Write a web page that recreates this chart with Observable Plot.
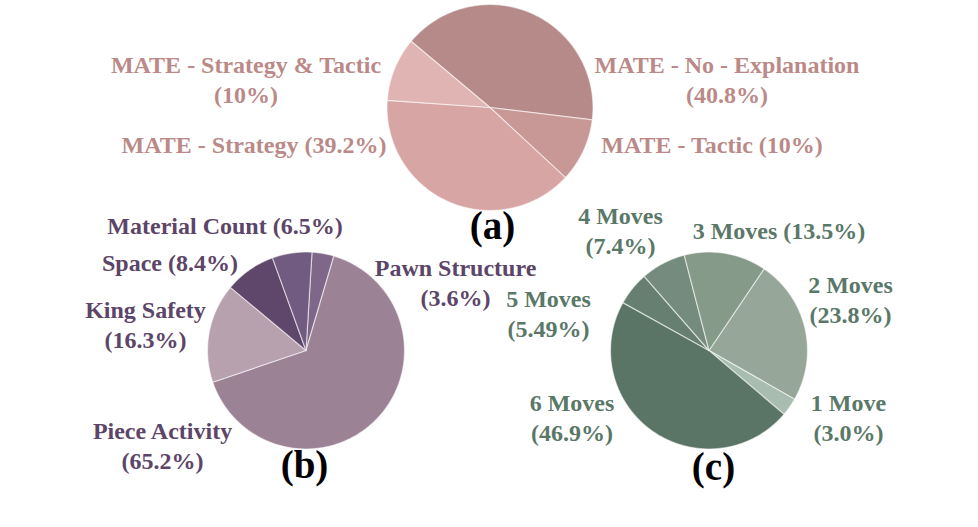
<!DOCTYPE html>
<html>
<head>
<meta charset="utf-8">
<script src="https://cdn.jsdelivr.net/npm/d3@7"></script>
<script src="https://cdn.jsdelivr.net/npm/@observablehq/plot@0.6"></script>
<style>
  html, body { margin: 0; padding: 0; background: #fff; }
  #chart { width: 978px; height: 527px; }
</style>
</head>
<body>
<div id="chart"></div>
<script>
// ---------- data ----------
// (a) MATE explanation types (clockwise order)
const aNames  = ["MATE - No - Explanation", "MATE - Tactic", "MATE - Strategy", "MATE - Strategy & Tactic"];
const aValues = [40.8, 10, 39.2, 10];
const aPct    = ["40.8%", "10%", "39.2%", "10%"];

// (b) concepts (clockwise order)
const bNames  = ["Pawn Structure", "Piece Activity", "King Safety", "Space", "Material Count"];
const bValues = [3.6, 65.2, 16.3, 8.4, 6.5];
const bPct    = ["3.6%", "65.2%", "16.3%", "8.4%", "6.5%"];

// (c) moves (clockwise order)
const cNames  = ["2 Moves", "1 Move", "6 Moves", "5 Moves", "4 Moves", "3 Moves"];
const cValues = [23.8, 3.0, 46.9, 5.49, 7.4, 13.5];
const cPct    = ["23.8%", "3.0%", "46.9%", "5.49%", "7.4%", "13.5%"];

const panelLabels = ["(a)", "(b)", "(c)"];

// ---------- styles / layout ----------
const aColors = ["#b58a89", "#c89896", "#d6a5a4", "#e0b4b2"];
const bColors = ["#7e6789", "#9b8295", "#b8a1af", "#5e476a", "#725b80"];
const cColors = ["#96a799", "#a8bdb0", "#5a7566", "#667f70", "#758b7d", "#869a8a"];
const textColors = ["#bb8a88", "#5c4568", "#5a7868"];

const deg = Math.PI / 180;
const dyText = -2;
const pies = [
  {names: aNames, values: aValues, pct: aPct, colors: aColors, cx: 489.5, cy: 107, r: 103, start: -50 * deg,
   pos: [[726.5, 80, true], [711.5, 145, false], [253.5, 145, false], [245.5, 80, true]],
   panel: [492, 226]},
  {names: bNames, values: bValues, pct: bPct, colors: bColors, cx: 305.5, cy: 350, r: 98.5, start: 3.5 * deg,
   pos: [[455, 283, true], [162, 446, true], [145, 325, true], [169.5, 263, false], [224.5, 226, false]],
   panel: [304, 465]},
  {names: cNames, values: cValues, pct: cPct, colors: cColors, cx: 708.5, cy: 350, r: 98.5, start: 34 * deg,
   pos: [[850, 300, true], [848, 417.5, true], [571.5, 417.5, true], [548, 314, true], [620, 231, true], [778.5, 231, false]],
   panel: [713, 467]}
];

// ---------- build slice outlines & labels ----------
const slicePts = [];
const labels = [];
const panels = [];
pies.forEach((p, pi) => {
  const arcs = d3.pie().sort(null).startAngle(p.start).endAngle(p.start + 2 * Math.PI)(p.values);
  arcs.forEach((a, i) => {
    const key = pi + "-" + i;
    const col = p.colors[i];
    slicePts.push({k: key, x: p.cx, y: p.cy, c: col});
    const n = Math.max(2, Math.ceil((a.endAngle - a.startAngle) / 0.01));
    for (let j = 0; j <= n; j++) {
      const ang = a.startAngle + (a.endAngle - a.startAngle) * j / n;
      slicePts.push({k: key, x: p.cx + p.r * Math.sin(ang), y: p.cy - p.r * Math.cos(ang), c: col});
    }
    slicePts.push({k: key, x: p.cx, y: p.cy, c: col});
    const [lx, ly, wrap] = p.pos[i];
    labels.push({x: lx, y: ly + dyText, text: p.names[i] + (wrap ? "\n" : " ") + "(" + p.pct[i] + ")", c: textColors[pi]});
  });
  panels.push({x: p.panel[0], y: p.panel[1], text: panelLabels[pi]});
});

const chart = Plot.plot({
  width: 978,
  height: 527,
  margin: 0,
  x: {domain: [0, 978], range: [0, 978], axis: null},
  y: {domain: [0, 527], range: [0, 527], axis: null},
  color: {type: "identity"},
  style: {background: "#ffffff"},
  marks: [
    Plot.line(slicePts, {x: "x", y: "y", z: "k", fill: "c", stroke: "#ffffff", strokeWidth: 1.2, strokeOpacity: 0.55, curve: "linear"}),
    Plot.text(labels, {x: "x", y: "y", text: "text", fill: "c", fontFamily: "Liberation Serif", fontWeight: "bold", fontSize: 24, lineHeight: 1.25, lineAnchor: "middle", textAnchor: "middle"}),
    Plot.text(panels, {x: "x", y: "y", text: "text", fill: "#000000", fontFamily: "Liberation Serif", fontWeight: "bold", fontSize: 39, lineAnchor: "middle", textAnchor: "middle"})
  ]
});
document.getElementById("chart").appendChild(chart);
</script>
</body>
</html>
